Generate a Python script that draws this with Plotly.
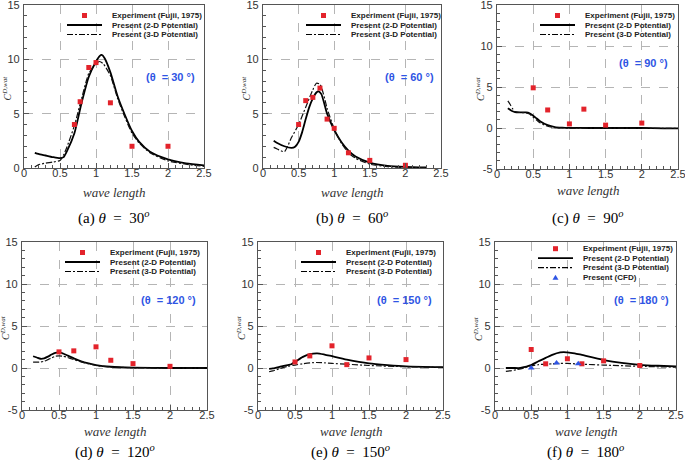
import plotly.graph_objects as go

# ---------------- data ----------------
# (a) theta = 30
exp_x_a = [0.7, 0.78, 0.9, 1.0, 1.2, 1.5, 2.0]
exp_y_a = [4.0, 6.1, 9.25, 9.7, 6.0, 2.0, 2.0]
p2_x_a = [0.15, 0.2, 0.3, 0.4, 0.5, 0.55, 0.6, 0.7, 0.8, 0.9, 1.0, 1.05, 1.08, 1.12, 1.2, 1.3, 1.4, 1.5, 1.6, 1.75, 2.0, 2.25, 2.5]
p2_y_a = [1.4, 1.3, 1.15, 1.0, 0.9, 1.0, 1.6, 3.2, 6.0, 8.4, 9.8, 10.3, 10.4, 10.1, 8.8, 6.6, 4.9, 3.4, 2.4, 1.5, 0.8, 0.43, 0.25]
p3_x_a = [0.15, 0.2, 0.3, 0.4, 0.5, 0.55, 0.6, 0.7, 0.8, 0.9, 1.0, 1.05, 1.1, 1.2, 1.3, 1.4, 1.5, 1.6, 1.75, 2.0, 2.25, 2.5]
p3_y_a = [0.1, 0.3, 0.45, 0.55, 0.7, 1.2, 2.0, 3.9, 6.4, 8.7, 9.6, 9.8, 9.6, 8.5, 6.4, 4.7, 3.2, 2.3, 1.4, 0.65, 0.35, 0.15]

# (b) theta = 60
exp_x_b = [0.5, 0.6, 0.7, 0.8, 0.9, 1.0, 1.2, 1.5, 2.0]
exp_y_b = [4.0, 6.2, 6.5, 7.35, 4.5, 3.65, 1.4, 0.7, 0.25]
p2_x_b = [0.15, 0.2, 0.3, 0.4, 0.45, 0.5, 0.55, 0.6, 0.65, 0.7, 0.75, 0.78, 0.82, 0.9, 1.0, 1.1, 1.2, 1.3, 1.5, 1.75, 2.0, 2.3]
p2_y_b = [2.5, 2.3, 2.0, 1.85, 1.95, 2.4, 3.3, 4.5, 5.6, 6.4, 6.95, 7.05, 6.8, 5.0, 3.5, 2.4, 1.6, 1.05, 0.5, 0.2, 0.1, 0.05]
p3_x_b = [0.15, 0.2, 0.3, 0.4, 0.5, 0.6, 0.7, 0.75, 0.8, 0.85, 0.9, 1.0, 1.1, 1.2, 1.3, 1.5, 1.75, 2.0, 2.3]
p3_y_b = [1.9, 1.75, 1.5, 2.8, 4.0, 5.6, 7.2, 7.8, 7.7, 6.8, 5.5, 3.6, 2.3, 1.4, 0.9, 0.35, 0.12, 0.05, 0.02]

# (c) theta = 90
exp_x_c = [0.5, 0.7, 1.0, 1.2, 1.5, 2.0]
exp_y_c = [4.9, 2.2, 0.5, 2.3, 0.35, 0.6]
p2_x_c = [0.15, 0.2, 0.25, 0.3, 0.4, 0.45, 0.5, 0.55, 0.6, 0.7, 0.8, 0.9, 1.0, 1.25, 1.5, 2.0, 2.3, 2.5]
p2_y_c = [2.4, 2.1, 1.95, 1.9, 1.9, 1.8, 1.5, 1.15, 0.8, 0.35, 0.12, 0.05, 0.02, 0.0, 0.0, 0.0, -0.05, -0.05]
p3_x_c = [0.15, 0.18, 0.22, 0.25, 0.3, 0.4, 0.45, 0.5, 0.55, 0.6, 0.7, 0.8, 0.9, 1.0, 1.5, 2.0, 2.3, 2.5]
p3_y_c = [3.3, 2.9, 2.3, 2.0, 1.9, 1.85, 1.7, 1.3, 0.95, 0.6, 0.22, 0.05, 0.0, -0.02, -0.02, -0.03, -0.05, -0.05]

# (d) theta = 120
exp_x_d = [0.5, 0.7, 1.0, 1.2, 1.5, 2.0]
exp_y_d = [1.92, 2.04, 2.52, 0.92, 0.52, 0.2]
p2_x_d = [0.15, 0.2, 0.25, 0.3, 0.35, 0.4, 0.45, 0.5, 0.55, 0.6, 0.7, 0.8, 0.9, 1.0, 1.2, 1.5, 2.0, 2.5]
p2_y_d = [1.4, 1.25, 1.1, 1.15, 1.35, 1.6, 1.8, 1.85, 1.75, 1.55, 1.15, 0.8, 0.55, 0.35, 0.15, 0.05, 0.0, 0.0]
p3_x_d = [0.15, 0.2, 0.25, 0.3, 0.35, 0.4, 0.45, 0.5, 0.55, 0.6, 0.7, 0.8, 0.9, 1.0, 1.2, 1.5, 2.0, 2.5]
p3_y_d = [0.7, 0.7, 0.72, 0.8, 1.0, 1.2, 1.4, 1.45, 1.4, 1.3, 1.0, 0.72, 0.5, 0.3, 0.12, 0.03, -0.02, 0.0]

# (e) theta = 150
exp_x_e = [0.5, 0.7, 1.0, 1.2, 1.5, 2.0]
exp_y_e = [0.72, 1.44, 2.64, 0.4, 1.2, 1.0]
p2_x_e = [0.15, 0.2, 0.3, 0.4, 0.45, 0.5, 0.6, 0.7, 0.8, 0.9, 1.0, 1.2, 1.5, 1.75, 2.0, 2.5]
p2_y_e = [-0.1, -0.05, 0.15, 0.35, 0.45, 0.7, 1.3, 1.65, 1.75, 1.6, 1.4, 1.0, 0.55, 0.35, 0.2, 0.1]
p3_x_e = [0.15, 0.2, 0.3, 0.4, 0.5, 0.6, 0.75, 0.9, 1.0, 1.2, 1.5, 2.0, 2.5]
p3_y_e = [-0.45, -0.35, -0.05, 0.2, 0.35, 0.5, 0.65, 0.62, 0.55, 0.45, 0.3, 0.15, 0.08]

# (f) theta = 180
exp_x_f = [0.5, 0.7, 1.0, 1.2, 1.5, 2.0]
exp_y_f = [2.2, 0.5, 1.1, 0.5, 0.85, 0.3]
cfd_x_f = [0.5, 0.85, 1.15]
cfd_y_f = [0.0, 0.6, 0.5]
p2_x_f = [0.15, 0.25, 0.35, 0.4, 0.5, 0.6, 0.7, 0.8, 0.9, 0.95, 1.0, 1.1, 1.2, 1.5, 1.75, 2.0, 2.25, 2.5]
p2_y_f = [0.0, 0.0, 0.0, 0.1, 0.35, 0.8, 1.2, 1.6, 1.85, 1.9, 1.85, 1.75, 1.55, 0.95, 0.6, 0.38, 0.27, 0.2]
p3_x_f = [0.15, 0.2, 0.3, 0.4, 0.5, 0.6, 0.7, 0.8, 0.9, 1.0, 1.2, 1.5, 2.0, 2.5]
p3_y_f = [-0.4, -0.35, -0.2, 0.0, 0.25, 0.4, 0.45, 0.5, 0.55, 0.55, 0.45, 0.35, 0.2, 0.1]

x_ticks = [0, 0.5, 1, 1.5, 2, 2.5]
x_tick_labels = ["0", "0.5", "1", "1.5", "2", "2.5"]
y_ticks = [-5, 0, 5, 10, 15]
y_tick_labels = ["-5", "0", "5", "10", "15"]
legend_labels = ["Experiment (Fujii, 1975)", "Present (2-D Potential)",
                 "Present (3-D Potential)", "Present (CFD)"]
angles = [30, 60, 90, 120, 150, 180]
letters = ["a", "b", "c", "d", "e", "f"]

panel_data = [
    (exp_x_a, exp_y_a, p2_x_a, p2_y_a, p3_x_a, p3_y_a, None, None),
    (exp_x_b, exp_y_b, p2_x_b, p2_y_b, p3_x_b, p3_y_b, None, None),
    (exp_x_c, exp_y_c, p2_x_c, p2_y_c, p3_x_c, p3_y_c, None, None),
    (exp_x_d, exp_y_d, p2_x_d, p2_y_d, p3_x_d, p3_y_d, None, None),
    (exp_x_e, exp_y_e, p2_x_e, p2_y_e, p3_x_e, p3_y_e, None, None),
    (exp_x_f, exp_y_f, p2_x_f, p2_y_f, p3_x_f, p3_y_f, cfd_x_f, cfd_y_f),
]

# ---------------- layout geometry (pixels) ----------------
W, H = 685, 460
panels = [
    dict(l=24, r=204, t=5, b=168, ymin=0, xt=192, cap=218),
    dict(l=263, r=441, t=5, b=168, ymin=0, xt=192, cap=218),
    dict(l=497, r=678, t=5, b=169, ymin=-5, xt=191, cap=218),
    dict(l=22, r=207, t=242, b=410, ymin=-5, xt=431, cap=451),
    dict(l=258, r=443, t=242, b=410, ymin=-5, xt=431, cap=451),
    dict(l=495, r=676, t=242, b=410, ymin=-5, xt=431, cap=451),
]

def px(x):
    return x / W

def py(y):
    return 1 - y / H

RED = "#e3232b"
BLUE = "#2f55e4"
SANS = "Liberation Sans, Arial, sans-serif"
SERIF = "Liberation Serif, Times New Roman, serif"
AX = "#555555"
SP = "\u2002"

fig = go.Figure()
layout = dict(width=W, height=H, margin=dict(l=0, r=0, t=0, b=0, autoexpand=False),
              paper_bgcolor="white", plot_bgcolor="white", showlegend=False)
annotations = []
shapes = []

def ann(x, y, text, font, xanchor="center", **kw):
    d = dict(x=px(x), y=py(y), xref="paper", yref="paper", showarrow=False,
             xanchor=xanchor, yanchor="middle", text=text, font=font)
    d.update(kw)
    annotations.append(d)

for i, (p, d) in enumerate(zip(panels, panel_data)):
    n = i + 1
    sfx = "" if n == 1 else str(n)
    xa, ya = "x" + sfx, "y" + sfx
    ex, ey, x2, y2, x3, y3, cx, cy = d

    fig.add_trace(go.Scatter(x=x2, y=y2, mode="lines", line=dict(color="black", width=1.8, shape="spline", smoothing=0.6),
                             xaxis=xa, yaxis=ya, name=legend_labels[1]))
    fig.add_trace(go.Scatter(x=x3, y=y3, mode="lines", line=dict(color="#111111", width=1.2, dash="6px,2px,2px,2px", shape="spline", smoothing=0.6),
                             xaxis=xa, yaxis=ya, name=legend_labels[2]))
    fig.add_trace(go.Scatter(x=ex, y=ey, mode="markers", marker=dict(symbol="square", size=5, color=RED),
                             xaxis=xa, yaxis=ya, name=legend_labels[0]))
    if cx is not None:
        fig.add_trace(go.Scatter(x=cx, y=cy, mode="markers", marker=dict(symbol="triangle-up", size=6, color=BLUE),
                                 xaxis=xa, yaxis=ya, name=legend_labels[3]))

    axcommon = dict(showline=True, linecolor=AX, linewidth=1.3, mirror=True,
                    ticks="inside", ticklen=5, tickcolor=AX, tickwidth=1,
                    showgrid=True, gridcolor="#b5b5b5", griddash="dash", gridwidth=1,
                    zeroline=False, automargin=False, ticklabeloverflow="allow",
                    tickfont=dict(family=SANS, size=11, color="#333333"))
    layout["xaxis" + sfx] = dict(axcommon, domain=[px(p["l"]), px(p["r"])], anchor=ya,
                                 range=[0, 2.5], tickvals=x_ticks, ticktext=x_tick_labels,
                                 ticklabelstandoff=-5,
                                 minor=dict(dtick=0.1, ticks="inside", ticklen=3, tickcolor=AX, showgrid=False))
    layout["yaxis" + sfx] = dict(axcommon, domain=[py(p["b"]), py(p["t"])], anchor=xa,
                                 range=[p["ymin"], 15], tickvals=y_ticks, ticktext=y_tick_labels,
                                 ticklabelstandoff=1,
                                 minor=dict(dtick=1, ticks="inside", ticklen=3, tickcolor=AX, showgrid=False))

    cxp = (p["l"] + p["r"]) / 2
    cyp = (p["t"] + p["b"]) / 2
    # axis titles
    ann(cxp, p["xt"], "<i>wave length</i>", dict(family=SERIF, size=13, color="#333333"))
    ann(p["l"] - 17, cyp + 2, "<i>C</i><sup><i>D,wat</i></sup>", dict(family=SERIF, size=10, color="#333333"),
        textangle=-90)
    # caption
    ann(cxp, p["cap"], "(%s) <i>θ</i>%s=%s%d<sup><i>o</i></sup>" % (letters[i], SP, SP, angles[i]),
        dict(family=SERIF, size=15, color="black"))
    # theta label
    ann(p["l"] + 146, p["t"] + (72 if i < 2 else 58), "<b>(θ  = %d °)</b>" % angles[i],
        dict(family=SANS, size=11, color=BLUE))
    # legend (drawn manually for compact spacing)
    rows = [10.5, 20, 29.5] if cx is None else [6.7, 16.2, 25.7, 35.2]
    kinds = ["exp", "2d", "3d"] + (["cfd"] if cx is not None else [])
    for k, (kind, ry) in enumerate(zip(kinds, rows)):
        yy = p["t"] + ry
        lab = legend_labels[{"exp": 0, "2d": 1, "3d": 2, "cfd": 3}[kind]]
        ann(p["l"] + 86, yy, "<b>%s</b>" % lab, dict(family=SANS, size=8, color="#222222"), xanchor="left")
        if kind == "exp":
            shapes.append(dict(type="rect", xref="paper", yref="paper",
                               x0=px(p["l"] + 58), x1=px(p["l"] + 63), y0=py(yy + 2.5), y1=py(yy - 2.5),
                               fillcolor=RED, line=dict(width=0)))
        elif kind == "cfd":
            x0 = p["l"] + 60.5
            shapes.append(dict(type="path", xref="paper", yref="paper",
                               path="M %f %f L %f %f L %f %f Z" % (px(x0 - 3), py(yy + 2.5), px(x0 + 3), py(yy + 2.5), px(x0), py(yy - 2.5)),
                               fillcolor=BLUE, line=dict(width=0)))
        else:
            shapes.append(dict(type="line", xref="paper", yref="paper",
                               x0=px(p["l"] + 43), x1=px(p["l"] + 78), y0=py(yy), y1=py(yy),
                               line=dict(color="black", width=1.8 if kind == "2d" else 1.2,
                                         dash="solid" if kind == "2d" else "6px,2px,2px,2px")))

layout["annotations"] = annotations
layout["shapes"] = shapes
fig.update_layout(**layout)
fig.write_html("out.html", config={"displayModeBar": False},
               post_script="document.body.style.margin='0';document.body.style.padding='0';")
